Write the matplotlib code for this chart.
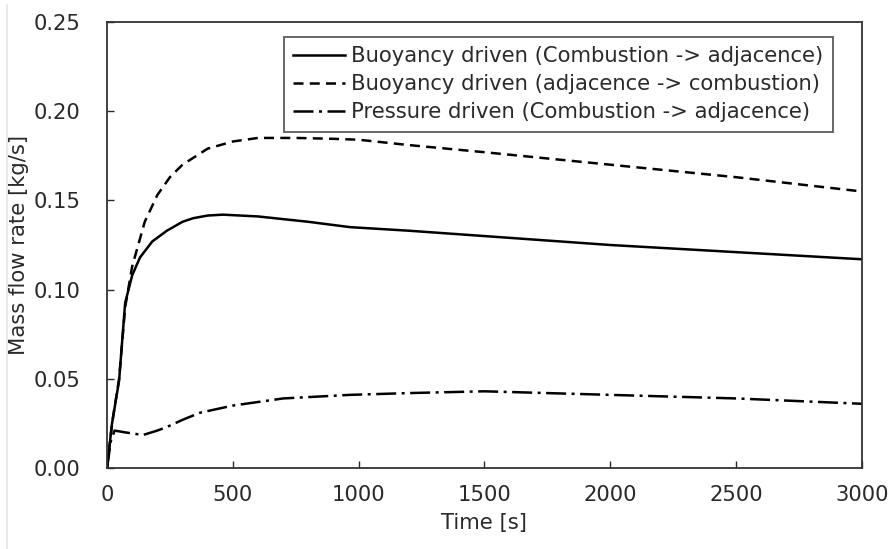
import matplotlib
matplotlib.use("Agg")
import matplotlib.pyplot as plt
from matplotlib.lines import Line2D

plt.rcParams['font.family'] = ['DejaVu Sans']

t_solid = [0, 20, 48, 72, 100, 131, 180, 238, 300, 342, 400, 461, 600, 800, 966, 1200, 1500, 2000, 2500, 3000]
solid = [0.0, 0.025, 0.049, 0.0925, 0.108, 0.118, 0.127, 0.133, 0.138, 0.140, 0.1415, 0.142, 0.141, 0.138, 0.135, 0.133, 0.130, 0.125, 0.121, 0.117]

t_dash = [0, 20, 48, 72, 100, 150, 200, 250, 300, 400, 500, 600, 750, 900, 1000, 1200, 1500, 2000, 2500, 3000]
dash = [0.0, 0.025, 0.050, 0.090, 0.113, 0.138, 0.153, 0.163, 0.170, 0.179, 0.183, 0.185, 0.185, 0.1845, 0.184, 0.181, 0.177, 0.170, 0.163, 0.155]

t_dd = [0, 15, 30, 71, 143, 200, 238, 300, 370, 500, 700, 966, 1200, 1500, 2000, 2500, 3000]
dd = [0.0, 0.015, 0.021, 0.020, 0.0185, 0.021, 0.023, 0.027, 0.031, 0.035, 0.039, 0.041, 0.042, 0.043, 0.041, 0.039, 0.036]

labels = ["Buoyancy driven (Combustion -> adjacence)",
          "Buoyancy driven (adjacence -> combustion)",
          "Pressure driven (Combustion -> adjacence)"]

xticks = [0, 500, 1000, 1500, 2000, 2500, 3000]
yticks = [0, 0.05, 0.10, 0.15, 0.20, 0.25]
ytick_labels = ["0.00", "0.05", "0.10", "0.15", "0.20", "0.25"]

txt = '#2a2a2a'
fs = 15.2

fig = plt.figure(figsize=(8.94, 5.49), dpi=100)
fig.add_artist(Line2D([0.008, 0.008], [0.0, 0.99], transform=fig.transFigure,
                      color='#e6e6e6', lw=1.2))
ax = fig.add_axes([0.1197, 0.1475, 0.8443, 0.8125])

ax.plot(t_solid, solid, color='black', lw=1.8, linestyle='-', label=labels[0])
ax.plot(t_dash, dash, color='black', lw=1.8, linestyle=(0, (4, 2.5)), label=labels[1])
ax.plot(t_dd, dd, color='black', lw=1.8, linestyle=(0, (8, 2.2, 1.2, 2.2)), label=labels[2])

ax.set_xlim(0, 3000)
ax.set_ylim(0, 0.25)
ax.set_xticks(xticks)
ax.set_yticks(yticks)
ax.set_yticklabels(ytick_labels)
ax.tick_params(direction='in', length=5, width=1, labelsize=fs, colors=txt)
ax.tick_params(axis='y', pad=19)
ax.tick_params(axis='x', pad=12)
for s in ax.spines.values():
    s.set_color('#333333')
    s.set_linewidth(1.3)
ax.set_xlabel("Time [s]", fontsize=fs, color=txt, labelpad=6)
ax.set_ylabel("Mass flow rate [kg/s]", fontsize=fs, color=txt, labelpad=3)

leg = ax.legend(loc='upper right', bbox_to_anchor=(0.9616, 0.9664), fontsize=fs,
                frameon=True, fancybox=False, edgecolor='#333333',
                handlelength=2.45, handletextpad=0.28, borderpad=0.45,
                labelspacing=0.38, borderaxespad=0.0)
leg.get_frame().set_linewidth(1.3)
for t in leg.get_texts():
    t.set_color(txt)

fig.savefig("out.png", dpi=100)
